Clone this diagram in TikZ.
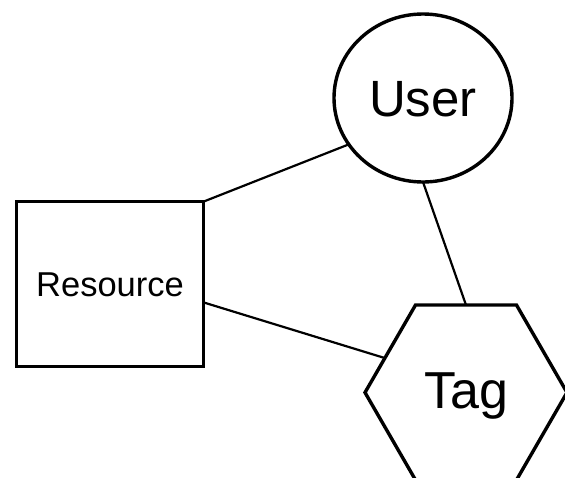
\documentclass[tikz,border=0pt]{standalone}
\usepackage{fontspec}
\setmainfont{Liberation Sans}
\usetikzlibrary{shapes.geometric}

\tikzset{
  entity/.style={draw=black, line width=3.4pt, inner sep=0pt, outer sep=0pt, fill=white},
  link/.style={draw=black, line width=2.2pt},
}

\begin{document}
\begin{tikzpicture}[x=1pt, y=-1pt]
  \clip (0,0) rectangle (565,477);
  \fill[white] (0,0) rectangle (565,477);

  % entities
  \node[entity, ellipse, minimum width=178pt, minimum height=168pt,
        font=\fontsize{51}{51}\selectfont, text height=37.4pt, text depth=0pt]
        (user) at (423,98) {User};
  \node[entity, rectangle, minimum width=186.6pt, minimum height=165pt,
        font=\fontsize{34.5}{34.5}\selectfont, text height=24.3pt, text depth=0.7pt]
        (res) at (110,284.2) {Resource};
  \node[entity, regular polygon, regular polygon sides=6, minimum size=202pt,
        font=\fontsize{52}{52}\selectfont, text height=37.2pt, text depth=5.6pt]
        (tag) at (466,392.5) {Tag};

  % relations
  \draw[link] (res.north east) -- (user.212.5);
  \draw[link] (res.-11.4) -- (tag.157.7);
  \draw[link] (user.270) -- (tag.90);
\end{tikzpicture}
\end{document}
